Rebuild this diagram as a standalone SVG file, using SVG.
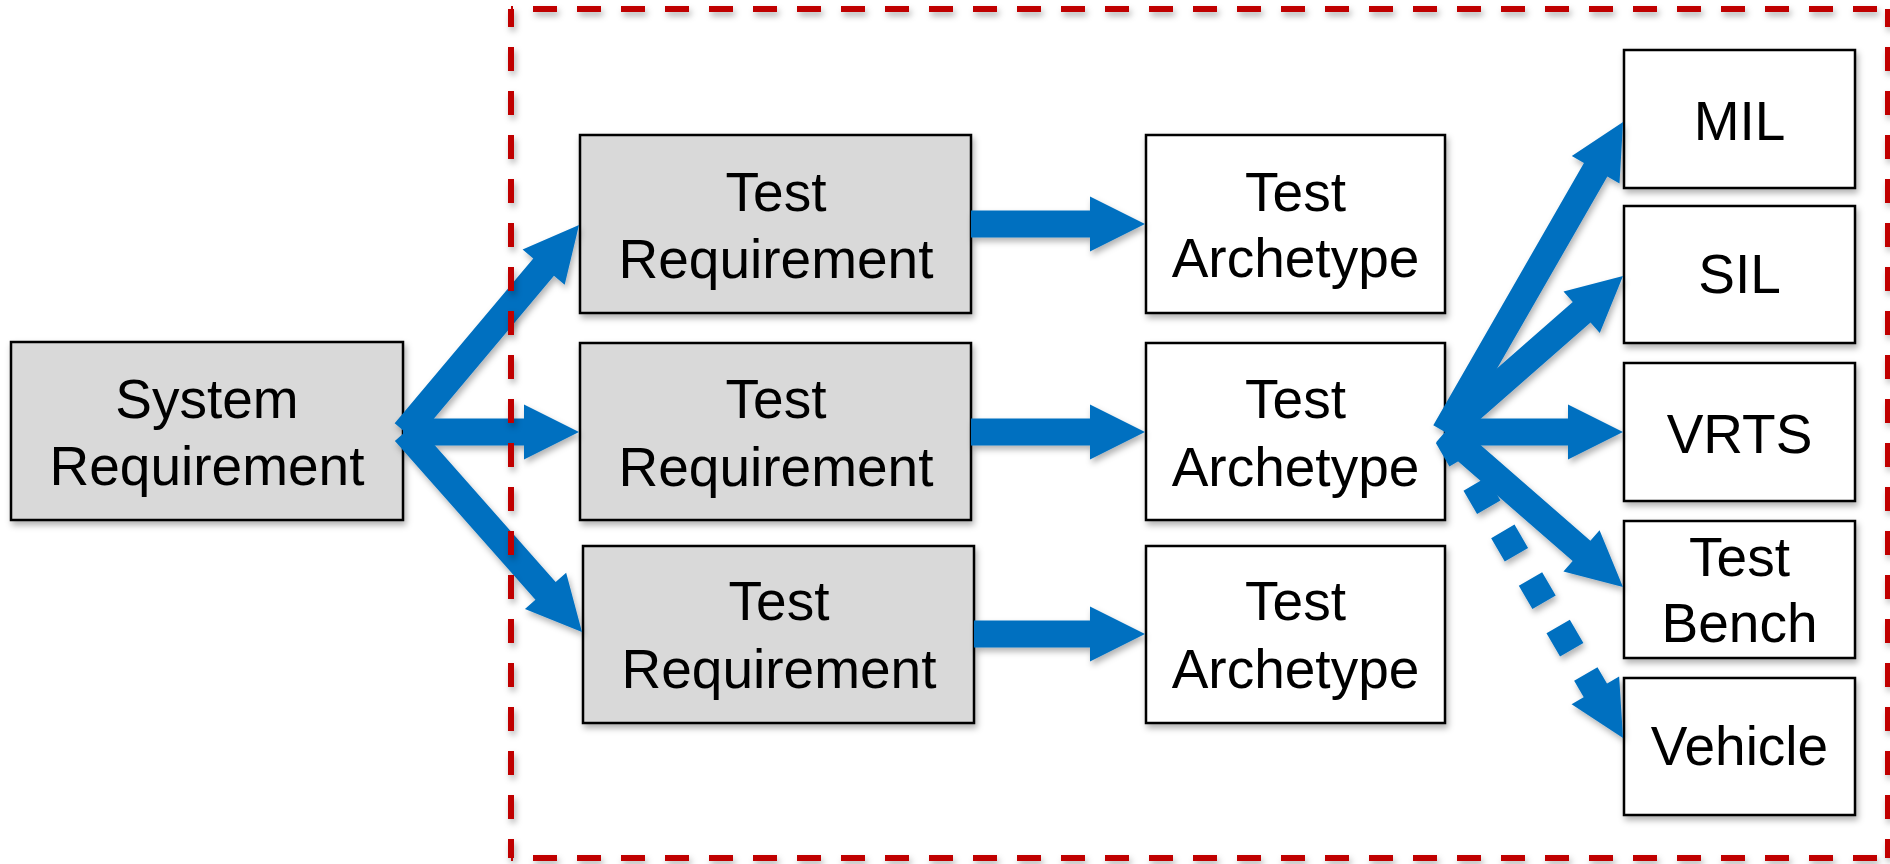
<svg xmlns="http://www.w3.org/2000/svg" width="1890" height="864" viewBox="0 0 1890 864">
<style>
.box{stroke:#000;stroke-width:2.5}
.grey{fill:#D9D9D9}
.white{fill:#FFFFFF}
.t{font-family:"Liberation Sans",Arial,sans-serif;font-size:55px;fill:#000;text-anchor:middle}
.arr{fill:#0070C0}
.dash{stroke:#C00000;stroke-width:6;stroke-dasharray:24 20;fill:none}
</style>
<defs>
<filter id="sh" x="-10%" y="-10%" width="125%" height="130%">
<feDropShadow dx="2" dy="4" stdDeviation="3" flood-color="#000" flood-opacity="0.3"/>
</filter>
</defs>
<rect width="1890" height="864" fill="#FFFFFF"/>

<g id="sysreq"><rect class="box grey" x="11" y="342" width="392" height="178" filter="url(#sh)"/>
<text class="t" x="207" y="418">System</text><text class="t" x="207" y="485">Requirement</text></g>

<g id="testreq1"><rect class="box grey" x="580" y="135" width="391" height="178" filter="url(#sh)"/>
<text class="t" x="776" y="211">Test</text><text class="t" x="776" y="278">Requirement</text></g>
<g id="testreq2"><rect class="box grey" x="580" y="343" width="391" height="177" filter="url(#sh)"/>
<text class="t" x="776" y="418">Test</text><text class="t" x="776" y="486">Requirement</text></g>
<g id="testreq3"><rect class="box grey" x="583" y="546" width="391" height="177" filter="url(#sh)"/>
<text class="t" x="779" y="620">Test</text><text class="t" x="779" y="688">Requirement</text></g>

<g id="arch1"><rect class="box white" x="1146" y="135" width="299" height="178" filter="url(#sh)"/>
<text class="t" x="1295.5" y="211">Test</text><text class="t" x="1295.5" y="277">Archetype</text></g>
<g id="arch2"><rect class="box white" x="1146" y="343" width="299" height="177" filter="url(#sh)"/>
<text class="t" x="1295.5" y="418">Test</text><text class="t" x="1295.5" y="486">Archetype</text></g>
<g id="arch3"><rect class="box white" x="1146" y="546" width="299" height="177" filter="url(#sh)"/>
<text class="t" x="1295.5" y="620">Test</text><text class="t" x="1295.5" y="688">Archetype</text></g>

<g id="mil"><rect class="box white" x="1624" y="50" width="231" height="138" filter="url(#sh)"/>
<text class="t" x="1739.5" y="140">MIL</text></g>
<g id="sil"><rect class="box white" x="1624" y="206" width="231" height="137" filter="url(#sh)"/>
<text class="t" x="1739.5" y="293">SIL</text></g>
<g id="vrts"><rect class="box white" x="1624" y="363" width="231" height="138" filter="url(#sh)"/>
<text class="t" x="1739.5" y="453">VRTS</text></g>
<g id="bench"><rect class="box white" x="1624" y="521" width="231" height="137" filter="url(#sh)"/>
<text class="t" x="1739.5" y="576">Test</text><text class="t" x="1739.5" y="642">Bench</text></g>
<g id="vehicle"><rect class="box white" x="1624" y="678" width="231" height="137" filter="url(#sh)"/>
<text class="t" x="1739.5" y="765">Vehicle</text></g>

<g id="connectors" filter="url(#sh)">
<polygon class="arr" transform="translate(405,432) rotate(-49.94)" points="0,-13.5 215.4,-13.5 215.4,-27.5 270.4,0 215.4,27.5 215.4,13.5 0,13.5"/>
<polygon class="arr" transform="translate(403,432)" points="0,-13.5 121,-13.5 121,-27.5 176,0 121,27.5 121,13.5 0,13.5"/>
<polygon class="arr" transform="translate(405,432) rotate(48.5)" points="0,-13.5 212.1,-13.5 212.1,-27.5 267.1,0 212.1,27.5 212.1,13.5 0,13.5"/>

<polygon class="arr" transform="translate(971,224)" points="0,-13.5 119,-13.5 119,-27.5 174,0 119,27.5 119,13.5 0,13.5"/>
<polygon class="arr" transform="translate(971,432)" points="0,-13.5 119,-13.5 119,-27.5 174,0 119,27.5 119,13.5 0,13.5"/>
<polygon class="arr" transform="translate(974,634)" points="0,-13.5 116,-13.5 116,-27.5 171,0 116,27.5 116,13.5 0,13.5"/>

<polygon class="arr" transform="translate(1445,432) rotate(-60.13)" points="0,-13.5 302.5,-13.5 302.5,-27.5 357.5,0 302.5,27.5 302.5,13.5 0,13.5"/>
<polygon class="arr" transform="translate(1445,432) rotate(-41.23)" points="0,-13.5 181.7,-13.5 181.7,-27.5 236.7,0 181.7,27.5 181.7,13.5 0,13.5"/>
<polygon class="arr" transform="translate(1445,432)" points="0,-13.5 123,-13.5 123,-27.5 178,0 123,27.5 123,13.5 0,13.5"/>
<polygon class="arr" transform="translate(1445,432) rotate(41.05)" points="0,-13.5 181,-13.5 181,-27.5 236,0 181,27.5 181,13.5 0,13.5"/>
<g transform="translate(1445,432) rotate(59.81)">
<line x1="5" y1="0" x2="300" y2="0" stroke="#0070C0" stroke-width="27" stroke-dasharray="27 28"/>
<polygon class="arr" points="299,-27.5 354,0 299,27.5"/>
</g>
</g>

<g id="boundary" filter="url(#sh)">
<line class="dash" x1="511" y1="9" x2="1888" y2="9" stroke-dashoffset="22"/>
<line class="dash" x1="511" y1="858" x2="1888" y2="858" stroke-dashoffset="22"/>
<line class="dash" x1="511" y1="9" x2="511" y2="858" stroke-dashoffset="6"/>
<line class="dash" x1="1888" y1="9" x2="1888" y2="858" stroke-dashoffset="6"/>
</g>
</svg>
